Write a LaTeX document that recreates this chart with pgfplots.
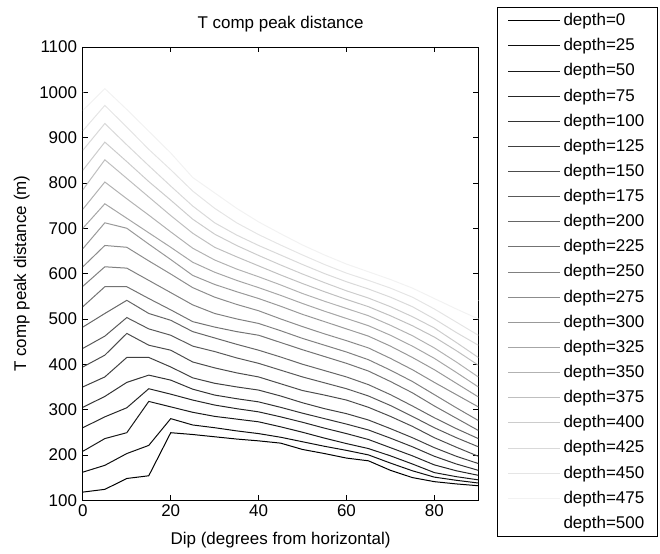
\documentclass[border=0pt]{standalone}
\usepackage{pgfplots}
\pgfplotsset{compat=1.18}
\usepackage{pgfplotstable}
\usepackage{fontspec}
\setmainfont{Liberation Sans}

\pgfplotstableread{
x  d0  d25 d50 d75 d100 d125 d150 d175 d200 d225 d250 d275 d300 d325 d350 d375 d400 d425 d450 d475 d500
0  118 162 208 260 305 350 394 435 482 527 572 615 655 700 742 785 828 872 915 960 1000
5  124 177 236 284 329 372 420 462 512 571 615 662 712 754 802 851 890 931 971 1008 1048
10 148 203 249 304 360 415 468 503 541 571 612 658 700 722 765 810 847 884 923 962 1002
15 154 221 318 346 376 415 442 478 512 545 585 628 665 690 729 769 803 838 874 914 954
20 249 280 306 334 365 394 431 464 497 520 558 599 631 658 692 728 762 793 829 866 906
25 245 266 294 321 345 370 405 440 472 494 531 569 596 625 656 689 720 749 782 812 852
30 240 260 285 310 332 358 392 428 458 482 512 548 576 603 630 658 687 712 744 778 818
35 235 253 279 302 324 350 381 414 444 472 500 532 560 585 610 637 662 685 712 744 784
40 231 247 273 295 317 343 372 402 431 464 490 518 545 569 593 617 640 662 686 714 754
45 226 239 262 284 305 330 357 387 416 448 474 500 528 552 575 597 619 641 663 688 728
50 212 229 250 272 292 315 342 372 400 432 457 483 510 534 556 578 599 620 641 663 703
55 203 219 237 259 280 302 332 359 386 417 442 467 494 517 539 560 580 600 620 641 681
60 193 210 225 247 268 291 321 346 372 402 427 452 478 501 523 543 562 582 601 621 661
65 187 200 214 234 255 277 305 330 355 385 410 436 462 485 507 527 546 566 585 604 644
70 166 182 198 216 237 258 285 309 333 362 387 413 440 464 486 507 527 548 568 587 627
75 150 165 180 198 218 238 263 285 308 337 362 388 415 440 463 485 505 527 548 568 608
80 141 151 161 178 197 216 238 260 282 308 333 360 388 413 436 460 480 500 522 545 585
85 136 144 152 165 180 197 217 238 258 281 304 333 358 382 405 430 448 470 493 522 562
90 132 138 145 155 166 181 197 218 236 254 276 306 328 350 372 398 415 442 464 500 540
}\data

\begin{document}
\fontsize{17}{20}\selectfont
\begin{tikzpicture}[x=1pt,y=1pt]
\begin{axis}[
  scale only axis, width=396pt, height=454pt,
  xmin=0, xmax=90, ymin=100, ymax=1100,
  xtick={0,20,40,60,80}, ytick={100,200,...,1100},
  tick pos=both, tick align=inside, major tick length=5pt,
  axis line style={line width=0.8pt},
  every tick/.style={black, line width=0.8pt},
  /pgf/number format/assume math mode=true,
  /pgf/number format/1000 sep={},
  ticklabel style={font=\fontsize{17}{20}\selectfont},
  xticklabel style={yshift=1.5pt},
  title={T comp peak distance},
  title style={at={(0.5,1)}, anchor=base, yshift=12pt, font=\fontsize{17}{20}\selectfont},
  xlabel={Dip (degrees from horizontal)},
  xlabel style={at={(0.5,0)}, anchor=base, yshift=-44.5pt, font=\fontsize{17}{20}\selectfont},
  ylabel={T comp peak distance (m)},
  ylabel style={at={([xshift=-56.8pt]axis description cs:0,0.5)}, anchor=base, font=\fontsize{17}{20}\selectfont},
  every axis plot/.append style={line width=1pt},
  legend image code/.code={\draw[#1] (0pt,0pt) -- (52pt,0pt);},
  legend cell align=left,
  legend style={at={(1,1)}, anchor=north west, xshift=19pt, yshift=40pt,
    draw=black, line width=0.8pt, inner xsep=10pt, inner ysep=5pt,
    row sep=8.3pt, column sep=0pt,
    font=\fontsize{17}{20}\selectfont,
    nodes={inner xsep=3pt, inner ysep=1pt}},
]
\addplot[color=black!100] table[x=x,y=d0]{\data};
\addplot[color=black!95] table[x=x,y=d25]{\data};
\addplot[color=black!90] table[x=x,y=d50]{\data};
\addplot[color=black!85] table[x=x,y=d75]{\data};
\addplot[color=black!80] table[x=x,y=d100]{\data};
\addplot[color=black!75] table[x=x,y=d125]{\data};
\addplot[color=black!70] table[x=x,y=d150]{\data};
\addplot[color=black!65] table[x=x,y=d175]{\data};
\addplot[color=black!60] table[x=x,y=d200]{\data};
\addplot[color=black!55] table[x=x,y=d225]{\data};
\addplot[color=black!50] table[x=x,y=d250]{\data};
\addplot[color=black!45] table[x=x,y=d275]{\data};
\addplot[color=black!40] table[x=x,y=d300]{\data};
\addplot[color=black!35] table[x=x,y=d325]{\data};
\addplot[color=black!30] table[x=x,y=d350]{\data};
\addplot[color=black!25] table[x=x,y=d375]{\data};
\addplot[color=black!20] table[x=x,y=d400]{\data};
\addplot[color=black!15] table[x=x,y=d425]{\data};
\addplot[color=black!10] table[x=x,y=d450]{\data};
\addplot[color=black!5] table[x=x,y=d475]{\data};
\addplot[color=white] table[x=x,y=d500]{\data};
\legend{depth=0,depth=25,depth=50,depth=75,depth=100,depth=125,depth=150,depth=175,depth=200,depth=225,depth=250,depth=275,depth=300,depth=325,depth=350,depth=375,depth=400,depth=425,depth=450,depth=475,depth=500}
\end{axis}
\path (-83,-50) rectangle (578,501);
\end{tikzpicture}
\end{document}
